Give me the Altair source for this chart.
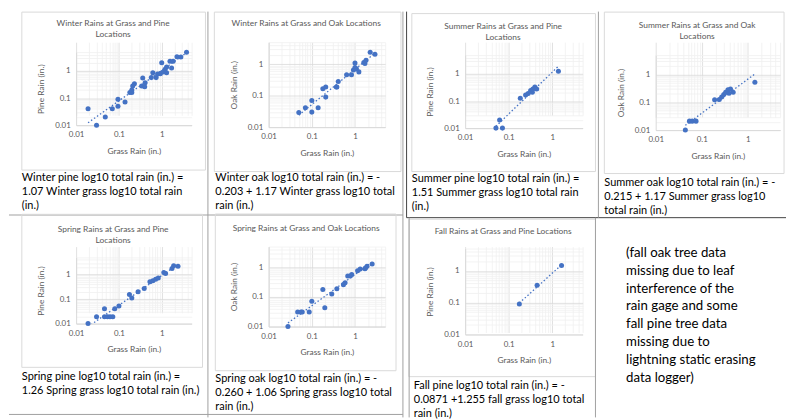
import altair as alt
import pandas as pd

# ---------------- data ----------------
winter_pine_grass = [0.019, 0.03, 0.048, 0.07, 0.095, 0.095, 0.139, 0.18, 0.2, 0.21, 0.23, 0.2, 0.34, 0.36, 0.41, 0.4,
                     0.57, 0.62, 0.74, 0.8, 0.93, 1.0, 1.07, 1.2, 1.3, 1.3, 1.56, 1.7, 1.85, 2.27, 2.8, 3.8]
winter_pine_tree = [0.04, 0.01, 0.02, 0.04, 0.09, 0.05, 0.072, 0.16, 0.2, 0.28, 0.34, 0.16, 0.28, 0.55, 0.37, 0.26,
                    0.57, 0.87, 0.57, 0.77, 0.8, 2.03, 0.92, 1.16, 1.4, 0.87, 2.3, 1.3, 2.3, 3.37, 3.3, 4.9]

winter_oak_grass = [0.05, 0.071, 0.1, 0.1, 0.14, 0.18, 0.21, 0.21, 0.37, 0.41, 0.38, 0.64, 0.83, 1.0, 0.92, 1.08,
                    1.23, 1.0, 1.6, 1.8, 2.25, 2.9, 1.7]
winter_oak_tree = [0.029, 0.041, 0.07, 0.03, 0.041, 0.166, 0.19, 0.09, 0.19, 0.28, 0.19, 0.46, 0.46, 1.1, 0.65, 0.71,
                   0.57, 0.78, 1.13, 1.34, 2.4, 2.07, 1.05]

summer_pine_grass = [0.051, 0.062, 0.072, 0.185, 0.245, 0.28, 0.32, 0.36, 0.40, 0.35, 0.44, 1.39]
summer_pine_tree = [0.01, 0.02, 0.01, 0.126, 0.166, 0.19, 0.245, 0.28, 0.33, 0.21, 0.28, 1.25]

summer_oak_grass = [0.044, 0.054, 0.062, 0.075, 0.19, 0.24, 0.27, 0.30, 0.33, 0.37, 0.39, 0.42, 0.48, 1.42]
summer_oak_tree = [0.01, 0.021, 0.021, 0.021, 0.124, 0.125, 0.155, 0.19, 0.23, 0.28, 0.21, 0.30, 0.23, 0.53]

spring_pine_grass = [0.019, 0.030, 0.046, 0.046, 0.054, 0.062, 0.072, 0.08, 0.1, 0.176, 0.2, 0.28, 0.39, 0.53, 0.62,
                     0.72, 0.83, 1.12, 1.23, 1.74, 1.9, 2.4]
spring_pine_tree = [0.01, 0.019, 0.04, 0.019, 0.019, 0.019, 0.019, 0.04, 0.052, 0.153, 0.11, 0.2, 0.27, 0.51, 0.56,
                    0.64, 0.72, 1.22, 1.1, 1.78, 2.3, 2.2]

spring_oak_grass = [0.028, 0.047, 0.056, 0.06, 0.087, 0.1, 0.18, 0.2, 0.29, 0.38, 0.54, 0.59, 0.68, 0.78, 0.84, 1.15,
                    1.32, 1.7, 1.9, 2.5, 1.75]
spring_oak_tree = [0.01, 0.031, 0.031, 0.031, 0.031, 0.072, 0.178, 0.043, 0.126, 0.19, 0.26, 0.3, 0.51, 0.51, 0.57,
                   0.76, 0.88, 0.9, 1.08, 1.3, 0.95]

fall_pine_grass = [0.176, 0.45, 1.64]
fall_pine_tree = [0.091, 0.35, 1.47]

GRID_TICKS = [0.01, 0.02, 0.03, 0.04, 0.05, 0.06, 0.07, 0.08, 0.09,
              0.1, 0.2, 0.3, 0.4, 0.5, 0.6, 0.7, 0.8, 0.9,
              1, 2, 3, 4, 5]
AXIS_DOMAIN = [0.01, 5]

titles = {
    "wp": "Winter Rains at Grass and Pine\nLocations",
    "wo": "Winter Rains at Grass and Oak Locations",
    "sp": "Summer Rains at Grass and Pine\nLocations",
    "so": "Summer Rains at Grass and Oak\nLocations",
    "pp": "Spring Rains at Grass and Pine\nLocations",
    "po": "Spring Rains at Grass and Oak Locations",
    "fp": "Fall Rains at Grass and Pine Locations",
}
captions = {
    "wp": "Winter pine log10 total rain (in.) =\n1.07 Winter grass log10 total rain\n(in.)",
    "wo": "Winter oak log10 total rain (in.) = -\n0.203 + 1.17 Winter grass log10 total\nrain (in.)",
    "sp": "Summer pine log10 total rain (in.) =\n1.51 Summer grass log10 total rain\n(in.)",
    "so": "Summer oak log10 total rain (in.) = -\n0.215 + 1.17 Summer grass log10\ntotal rain (in.)",
    "pp": "Spring pine log10 total rain (in.) =\n1.26 Spring grass log10 total rain (in.)",
    "po": "Spring oak log10 total rain (in.) = -\n0.260 + 1.06 Spring grass log10 total\nrain (in.)",
    "fp": "Fall pine log10 total rain (in.) = -\n0.0871 +1.255 fall grass log10 total\nrain (in.)",
}
note = ("(fall oak tree data\nmissing due to leaf\ninterference of the\nrain gage and some\n"
        "fall pine tree data\nmissing due to\nlightning static erasing\ndata logger)")

# ---------------- style ----------------
BLUE = "#4472C4"
FONT = "Lato"
GREY_TXT = "#595959"
DECADE = "abs(log(datum.value)/LN10 - round(log(datum.value)/LN10)) < 0.001"
GRID_COLOR = {"condition": {"test": DECADE, "value": "#d9d9d9"}, "value": "#f0f0f0"}
LABEL_EXPR = "(" + DECADE + ") ? format(datum.value, '~g') : ''"
BOX = "#d9d9d9"
TABLE = "#a0a0a0"
DARK = "#404040"
SMALL = 8.5
CAP = 11.1
CAP_LH = 14.3
NOTE = 13.4

one = pd.DataFrame({"k": [0]})


def axis_common():
    return dict(values=GRID_TICKS, labelExpr=LABEL_EXPR, grid=True, gridColor=GRID_COLOR, gridWidth=0.8,
                ticks=False, domainColor="#d9d9d9", labelColor=GREY_TXT, labelFont=FONT, labelFontSize=8,
                labelOverlap=False, titleFont=FONT, titleFontSize=SMALL, titleFontWeight="normal",
                titleColor=GREY_TXT)


def rule(x1, y1, x2, y2, color):
    base = alt.Chart(one).mark_rule(color=color, strokeWidth=1)
    if x1 == x2:
        return base.encode(x=alt.value(x1), y=alt.value(y1), y2=alt.value(y2))
    return base.encode(y=alt.value(y1), x=alt.value(x1), x2=alt.value(x2))


def text(txt, x, y_center, size, color, lh, align="left"):
    # y_center: centre of the first line
    return (alt.Chart(one)
            .mark_text(text=txt, lineBreak="\n", align=align, baseline="top", font=FONT, fontSize=size,
                       lineHeight=lh, color=color)
            .encode(x=alt.value(x), y=alt.value(y_center - 0.47 * size)))


def cell(gx, ty, title, title_c, ytitle, W, t, H, box, rules, cap, cap_x, cap_c):
    VH = t + H
    df = pd.DataFrame({"grass": gx, "tree": ty})
    xs = alt.Scale(type="log", domain=AXIS_DOMAIN, nice=False)
    ys = alt.Scale(type="log", domain=AXIS_DOMAIN, nice=False, range=[VH, t])
    xaxis = alt.Axis(title="Grass Rain (in.)", labelPadding=6, labelFlush=False, titleX=W / 2, titleY=25.5,
                     titleAlign="center", titleBaseline="middle", **axis_common())
    yaxis = alt.Axis(title=ytitle, labelPadding=6, titleX=-36, titleY=t + H / 2, titleAngle=270,
                     titleAlign="center", titleBaseline="middle", **axis_common())
    X = alt.X("grass:Q", scale=xs, axis=xaxis)
    Y = alt.Y("tree:Q", scale=ys, axis=yaxis)
    pts = alt.Chart(df).mark_circle(size=26, color=BLUE, opacity=1).encode(x=X, y=Y)
    trend = (alt.Chart(df)
             .transform_calculate(lx="log(datum.grass)/LN10", ly="log(datum.tree)/LN10")
             .transform_regression("lx", "ly")
             .transform_calculate(grass="pow(10, datum.lx)", tree="pow(10, datum.ly)")
             .mark_line(color=BLUE, strokeDash=[1.5, 2.2], strokeWidth=1.3, clip=True)
             .encode(x=X, y=Y))
    bx1, bx2, by1, by2 = box
    boxl = alt.Chart(one).mark_rect(fillOpacity=0, stroke=BOX, strokeWidth=1).encode(
        x=alt.value(bx1), x2=alt.value(bx2), y=alt.value(by1), y2=alt.value(by2))
    layers = ([boxl] + [rule(*r) for r in rules] + [trend, pts,
              text(title, W / 2 - 21, title_c, SMALL, GREY_TXT, 11, align="center"),
              text(cap, cap_x, cap_c, CAP, "#000000", CAP_LH)])
    return alt.layer(*layers).properties(width=W, height=VH)


def spacer(w, h=1):
    return alt.Chart(one).mark_point(opacity=0).encode(x=alt.value(0), y=alt.value(0)).properties(width=w, height=h)


# row 1 cells (row top at page y 39)
P1 = cell(winter_pine_grass, winter_pine_tree, titles["wp"], -19, "Pine Rain (in.)", 117, 10, 74,
          (-55, 131, -30.5, 129.5),
          [(133.5, -31, 133.5, 380, TABLE), (-68, 175, 331, 175, TABLE)],
          captions["wp"], -55, 136.7)
P2 = cell(winter_oak_grass, winter_oak_tree, titles["wo"], -19, "Oak Rain (in.)", 118, 0, 86,
          (-55, 134, -30.5, 131),
          [(136, -31, 136, 380, TABLE)],
          captions["wo"], -54, 137)
P3 = cell(summer_pine_grass, summer_pine_tree, titles["sp"], -16.7, "Pine Rain (in.)", 119, 13, 74,
          (-54, 132, -29, 131),
          [(-59.3, -31, -59.3, 177.7, DARK), (-59.3, 177.7, 325, 177.7, DARK),
           (135, -31, 135, 177.7, TABLE)],
          captions["sp"], -54, 138)
P4 = cell(summer_oak_grass, summer_oak_tree, titles["so"], -17, "Oak Rain (in.)", 126, 13, 76,
          (-52, 130, -30.5, 133), [],
          captions["so"], -52, 142)
# row 2 cells (row top at page y 246)
P5 = cell(spring_pine_grass, spring_pine_tree, titles["pp"], -17.7, "Pine Rain (in.)", 117, 11, 67,
          (-55, 128, -32.7, 122.3),
          [(-68, 170, 331, 170, TABLE)],
          captions["pp"], -55, 131)
P6 = cell(spring_oak_grass, spring_oak_tree, titles["po"], -18.3, "Oak Rain (in.)", 118, 0, 81,
          (-54, 129, -33, 125.7), [],
          captions["po"], -54, 133)
P7 = cell(fall_pine_grass, fall_pine_tree, titles["fp"], -15.3, "Pine Rain (in.)", 119, 2, 87,
          (-57, 132, -27.7, 131.7),
          [(-56.7, -29.3, -56.7, 173, TABLE), (132, -29.3, 132, 173, TABLE)],
          captions["fp"], -52, 140)
NOTE_CELL = text(note, -30, 6, NOTE, "#000000", 18).properties(width=126, height=10)

cells = [P1, spacer(78), P2, spacer(81), P3, spacer(74), P4,
         P5, spacer(78), P6, spacer(81), P7, spacer(74), NOTE_CELL]

chart = (alt.concat(*cells, columns=7, spacing={"row": 118, "column": 0}, bounds="flush", align="each")
         .properties(padding=0)
         .configure_view(stroke="transparent"))

chart.save("out.html", embed_options={"renderer": "svg", "actions": False})
